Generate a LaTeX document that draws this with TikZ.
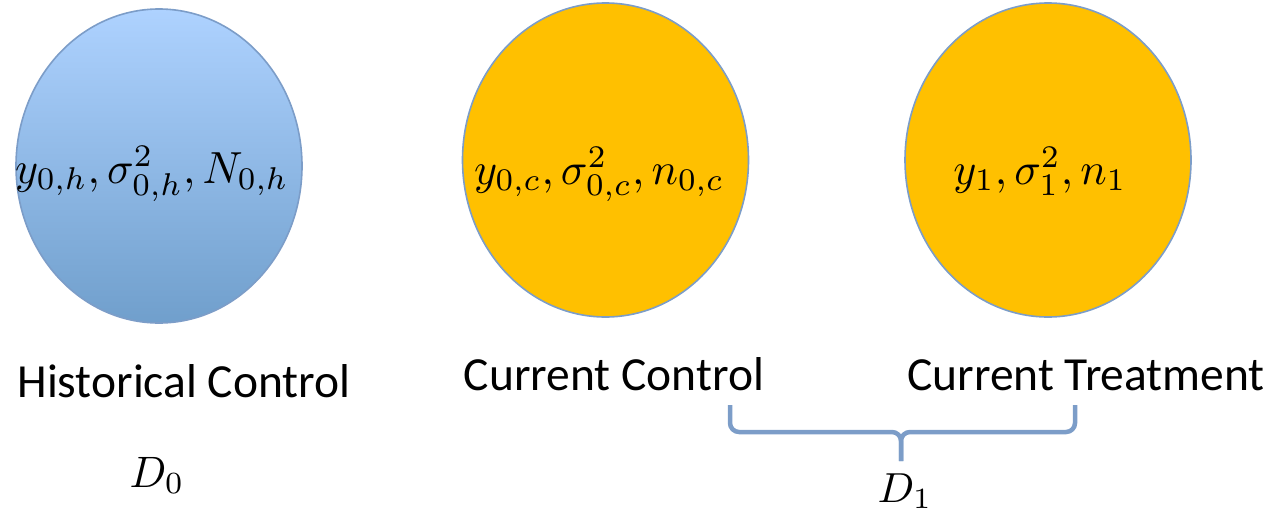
\documentclass[tikz,border=0pt]{standalone}
\usepackage{fontspec}
\setmainfont{Carlito}
\usetikzlibrary{shapes.geometric}
\definecolor{bluetop}{RGB}{174,210,255}
\definecolor{bluebot}{RGB}{112,159,204}
\definecolor{edgeblue}{RGB}{124,157,200}
\definecolor{gold}{RGB}{255,192,0}
\newcommand{\bigmath}[3]{\scalebox{#1}[#2]{$#3$}}
\tikzset{
  ell/.style={ellipse, draw=edgeblue, line width=1.6pt, minimum width=286pt, minimum height=314pt, inner sep=0pt},
  blueell/.style={ell, top color=bluetop, bottom color=bluebot},
  goldell/.style={ell, fill=gold},
  mathlbl/.style={anchor=base, inner sep=0pt},
  txtlbl/.style={anchor=base, inner sep=0pt, font=\fontsize{47.5}{56}\selectfont},
  bracestyle/.style={draw=edgeblue, line width=4.5pt, rounded corners=9pt}
}
\begin{document}
\begin{tikzpicture}[x=1pt,y=-1pt]
\useasboundingbox (0,0) rectangle (1279,514);
% ellipses
\node[blueell] (hc) at (159,166) {};
\node[goldell] (cc) at (605.5,160) {};
\node[goldell] (ct) at (1048,160) {};
% ellipse texts
\node[mathlbl] (hct) at (152,183) {\bigmath{4.4}{4.5}{y_{0,h},\sigma^2_{0,h},N_{0,h}}};
\node[mathlbl] (cct) at (599,184) {\bigmath{4.4}{4.5}{y_{0,c},\sigma^2_{0,c},n_{0,c}}};
\node[mathlbl] (ctt) at (1040,184) {\bigmath{4.4}{4.5}{y_{1},\sigma^2_{1},n_{1}}};
% labels
\node[txtlbl] (hcl) at (184,397) {Historical Control};
\node[txtlbl] (ccl) at (614,390) {Current Control};
\node[txtlbl] (ctl) at (1086,390) {Current Treatment};
% D labels
\node[mathlbl] (d0) at (157,487) {\bigmath{4.3}{4.4}{D_0}};
\node[mathlbl] (d1) at (905,502) {\bigmath{4.3}{4.2}{D_1}};
% brace
\coordinate (bl) at (730,405);
\coordinate (br) at (1075,405);
\coordinate (bm) at (901,432);
\coordinate (bt) at (901,461);
\draw[bracestyle] (bl) |- (bm) -- (bt);
\draw[bracestyle] (br) |- (bm) -- (bt);
\end{tikzpicture}
\end{document}
